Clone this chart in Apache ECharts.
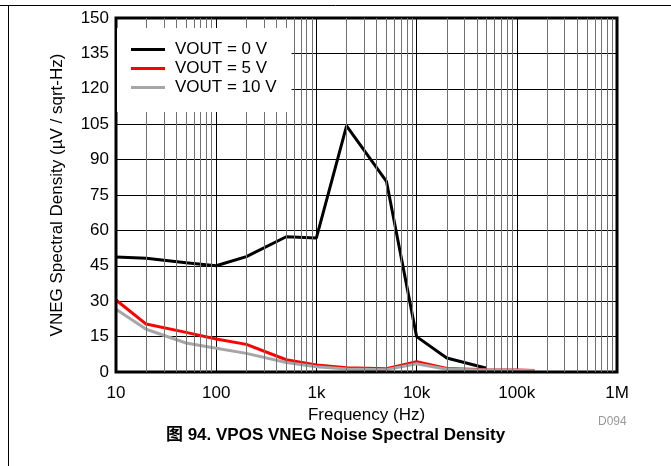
<!DOCTYPE html>
<html>
<head>
<meta charset="utf-8">
<script src="https://cdn.jsdelivr.net/npm/echarts@6/dist/echarts.min.js"></script>
<style>
html,body{margin:0;padding:0;background:#fff;}
#c{width:671px;height:466px;}
</style>
</head>
<body>
<div id="c"></div>
<script>
// ---- data ----
var freqs = [10, 20, 50, 100, 200, 500, 1000, 2000, 5000, 10000, 20000, 50000, 100000, 150000];
var vout0 = [48.7, 48.2, 46.3, 45.0, 48.9, 57.3, 56.8, 104.3, 80.8, 15.0, 5.9, 1.6];
var vout5 = [30.5, 20.3, 16.8, 14.0, 11.7, 5.2, 3.0, 1.8, 1.4, 4.4, 1.5, 1.0, 0.8, 0.6];
var vout10 = [26.6, 18.1, 12.3, 10.1, 7.9, 4.0, 2.2, 1.3, 1.0, 3.5, 1.2, 0.9, 0.7, 0.5];
var seriesNames = ['VOUT = 0 V', 'VOUT = 5 V', 'VOUT = 10 V'];
var xTickValues = [10, 100, 1000, 10000, 100000, 1000000];
var xTickLabels = ['10', '100', '1k', '10k', '100k', '1M'];
var decades = [10, 100, 1000, 10000, 100000];
var minorMults = [2, 3, 4, 5, 6, 7, 8, 9];

function pairs(vals) {
  return vals.map(function (v, i) { return [freqs[i], v]; });
}
var minorLines = [];
decades.forEach(function (d) {
  minorMults.forEach(function (m) { minorLines.push({ xAxis: d * m }); });
});

var FONT = '"Liberation Sans", Arial, "Noto Sans CJK SC", sans-serif';
var chart = echarts.init(document.getElementById('c'), null, { renderer: 'canvas' });
chart.setOption({
  animation: false,
  backgroundColor: '#fff',
  textStyle: { fontFamily: FONT },
  grid: { left: 116, right: 54, top: 18, bottom: 94, show: true, borderColor: '#000', borderWidth: 3, backgroundColor: 'transparent', z: 5 },
  xAxis: {
    type: 'log', logBase: 10, min: 10, max: 1000000, interval: 1,
    axisLine: { show: false }, axisTick: { show: false },
    splitLine: { show: true, lineStyle: { color: '#000', width: 1 } },
    axisLabel: {
      fontSize: 17, color: '#000', margin: 13, fontFamily: FONT,
      formatter: function (v) {
        var i = xTickValues.indexOf(Math.round(v));
        return i >= 0 ? xTickLabels[i] : '';
      }
    },
    name: 'Frequency (Hz)', nameLocation: 'middle', nameGap: 29,
    nameTextStyle: { fontSize: 17, color: '#000', fontFamily: FONT }
  },
  yAxis: {
    type: 'value', min: 0, max: 150, interval: 15,
    axisLine: { show: false }, axisTick: { show: false },
    splitLine: { show: true, lineStyle: { color: '#000', width: 1 } },
    axisLabel: { fontSize: 17, color: '#000', margin: 7, fontFamily: FONT },
    name: 'VNEG Spectral Density (µV / sqrt-Hz)', nameLocation: 'middle', nameGap: 50, nameRotate: 90,
    nameTextStyle: { fontSize: 17, color: '#000', fontFamily: FONT }
  },
  legend: {
    data: seriesNames, orient: 'vertical', left: 117, top: 28,
    backgroundColor: '#fff', padding: [13, 15, 16, 14],
    itemWidth: 34, itemHeight: 3, itemGap: 2, icon: 'rect',
    textStyle: { fontSize: 17, lineHeight: 17, color: '#000', fontFamily: FONT, padding: [0, 0, 0, 5] }, z: 10
  },
  series: [
    { type: 'line', name: '_minor', data: [], z: 1, silent: true,
      markLine: { silent: true, symbol: ['none', 'none'], label: { show: false },
        lineStyle: { color: '#707070', width: 1, type: 'solid' }, data: minorLines, animation: false } },
    { type: 'line', name: seriesNames[0], data: pairs(vout0), showSymbol: false, symbol: 'none', z: 3,
      lineStyle: { color: '#000', width: 3 }, itemStyle: { color: '#000' } },
    { type: 'line', name: seriesNames[1], data: pairs(vout5), showSymbol: false, symbol: 'none', z: 3,
      lineStyle: { color: '#ff0000', width: 3 }, itemStyle: { color: '#ff0000' } },
    { type: 'line', name: seriesNames[2], data: pairs(vout10), showSymbol: false, symbol: 'none', z: 3,
      lineStyle: { color: '#a6a6a6', width: 3 }, itemStyle: { color: '#a6a6a6' } }
  ],
  graphic: [
    { type: 'line', shape: { x1: 0, y1: 5.5, x2: 671, y2: 5.5 }, style: { stroke: '#000', lineWidth: 1 } },
    { type: 'line', shape: { x1: 8.5, y1: 5, x2: 8.5, y2: 466 }, style: { stroke: '#000', lineWidth: 1 } },
    { type: 'text', left: 598, top: 416, style: { text: 'D094', fill: '#999', fontSize: 12, fontFamily: FONT } },
    { type: 'text', left: 'center', top: 427, style: { text: '图 94. VPOS VNEG Noise Spectral Density', fill: '#000', fontSize: 17, fontWeight: 'bold', fontFamily: FONT } }
  ]
});
</script>
</body>
</html>
